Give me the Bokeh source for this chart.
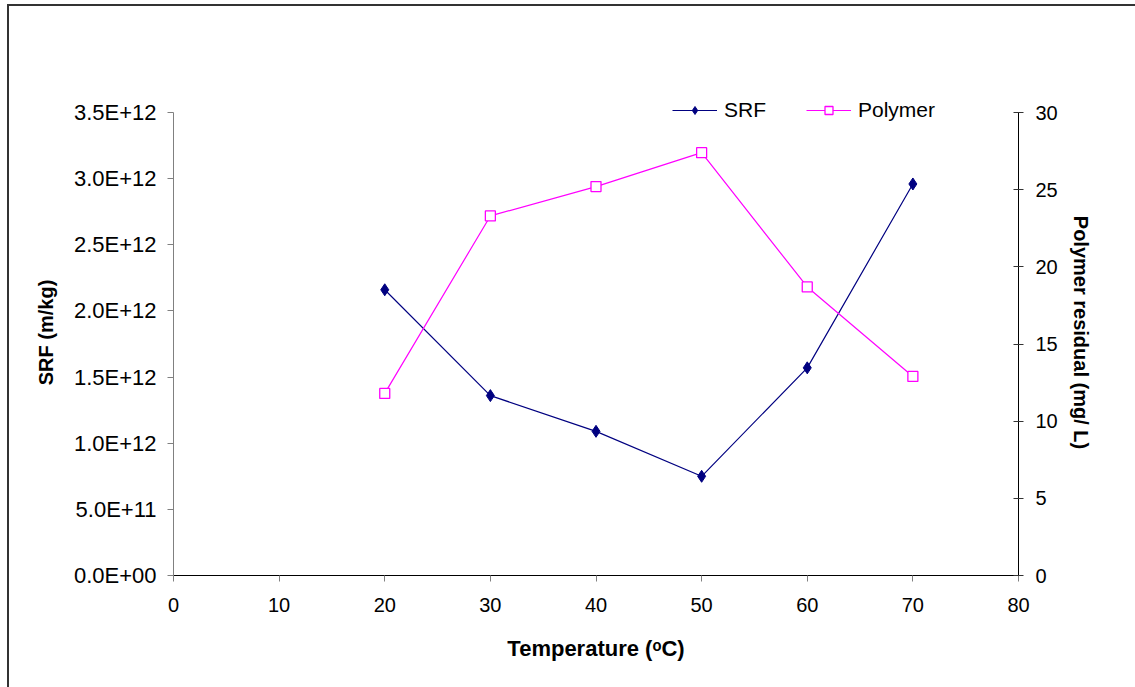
from bokeh.plotting import figure
from bokeh.models import (Range1d, LinearAxis, FixedTicker, CustomJSTickFormatter,
                          Legend, LegendItem)
from bokeh.embed import file_html
from bokeh.resources import INLINE

temperature = [20, 30, 40, 50, 60, 70]
srf = [2.16e12, 1.36e12, 1.09e12, 0.75e12, 1.57e12, 2.96e12]
polymer = [11.8, 23.3, 25.2, 27.4, 18.7, 12.9]

x_ticks = [0, 10, 20, 30, 40, 50, 60, 70, 80]
srf_ticks = [0, 0.5e12, 1.0e12, 1.5e12, 2.0e12, 2.5e12, 3.0e12, 3.5e12]
poly_ticks = [0, 5, 10, 15, 20, 25, 30]
srf_max = 3.5e12
poly_max = 30

FONT = "Liberation Sans"

# frame extends 23px above the top tick so the legend fits inside it
EXT = 485 / 462

W, H = 1128, 683
p = figure(width=W, height=H, output_backend="svg", toolbar_location=None,
           x_range=Range1d(0, 80), y_range=Range1d(0, srf_max * EXT),
           min_border_left=164, min_border_right=119,
           min_border_top=83, min_border_bottom=114)
p.margin = (4, 0, 0, 7)
p.styles = {"border-left": "2px solid #333333", "border-top": "2px solid #333333",
            "box-sizing": "border-box"}
p.extra_y_ranges = {"poly": Range1d(0, poly_max * EXT)}
p.grid.visible = False
p.outline_line_color = None
p.background_fill_color = "white"
p.border_fill_color = "white"

# left axis
ya = p.yaxis[0]
ya.bounds = (0, srf_max)
ya.ticker = FixedTicker(ticks=srf_ticks)
ya.formatter = CustomJSTickFormatter(code="""
    const s = tick.toExponential(1).toUpperCase();
    const parts = s.split('E');
    let e = parts[1];
    const sign = e[0] === '-' ? '-' : '+';
    let d = e.replace('+','').replace('-','');
    if (d.length < 2) d = '0' + d;
    return parts[0] + 'E' + sign + d;
""")
ya.axis_label = "SRF (m/kg)"
ya.axis_line_color = "#808080"
ya.major_tick_line_color = "#808080"
ya.major_tick_out = 6
ya.major_tick_in = 0
ya.minor_tick_line_color = None
ya.major_label_text_font = FONT
ya.major_label_text_font_size = "22px"
ya.major_label_text_color = "black"
ya.major_label_standoff = 11
ya.axis_label_text_font = FONT
ya.axis_label_text_font_size = "20px"
ya.axis_label_text_font_style = "bold"
ya.axis_label_text_color = "black"
ya.axis_label_standoff = 14

# bottom axis
xa = p.xaxis[0]
xa.ticker = FixedTicker(ticks=x_ticks)
xa.axis_label = "Temperature (ᵒC)"
xa.axis_line_color = "black"
xa.major_tick_line_color = "#808080"
xa.major_tick_out = 6
xa.major_tick_in = 0
xa.minor_tick_line_color = None
xa.major_label_text_font = FONT
xa.major_label_text_font_size = "20px"
xa.major_label_text_color = "black"
xa.major_label_standoff = 16
xa.axis_label_text_font = FONT
xa.axis_label_text_font_size = "22px"
xa.axis_label_text_font_style = "bold"
xa.axis_label_text_color = "black"
xa.axis_label_standoff = 21

# right axis
ra = LinearAxis(y_range_name="poly", ticker=FixedTicker(ticks=poly_ticks))
ra.bounds = (0, poly_max)
ra.axis_label = "Polymer residual (mg/ L)"
ra.axis_line_color = "black"
ra.major_tick_line_color = "#333333"
ra.major_tick_out = 5
ra.major_tick_in = 5
ra.minor_tick_line_color = None
ra.major_label_text_font = FONT
ra.major_label_text_font_size = "20px"
ra.major_label_text_color = "black"
ra.major_label_standoff = 12
ra.axis_label_text_font = FONT
ra.axis_label_text_font_size = "20px"
ra.axis_label_text_font_style = "bold"
ra.axis_label_text_color = "black"
ra.axis_label_standoff = 9
p.add_layout(ra, "right")

srf_line = p.line(temperature, srf, line_color="#000080", line_width=1.2)
srf_pts = p.scatter(temperature, srf, marker="diamond", size=12,
                    fill_color="#000080", line_color="#000080")
poly_line = p.line(temperature, polymer, y_range_name="poly",
                   line_color="#FF00FF", line_width=1.2)
poly_pts = p.scatter(temperature, polymer, y_range_name="poly", marker="square",
                     size=10, fill_color="white", line_color="#FF00FF", line_width=1.3)

legend = Legend(items=[
    LegendItem(label="SRF", renderers=[srf_line, srf_pts]),
    LegendItem(label="Polymer", renderers=[poly_line, poly_pts]),
], orientation="horizontal", location=(499, 453))
legend.background_fill_alpha = 0
legend.border_line_color = None
legend.label_text_font = FONT
legend.label_text_font_size = "21px"
legend.label_text_color = "black"
legend.glyph_width = 45
legend.glyph_height = 20
legend.label_height = 20
legend.label_standoff = 7
legend.spacing = 40
legend.padding = 0
legend.margin = 0
p.add_layout(legend, "center")

open("out.html", "w").write(file_html(p, INLINE))
